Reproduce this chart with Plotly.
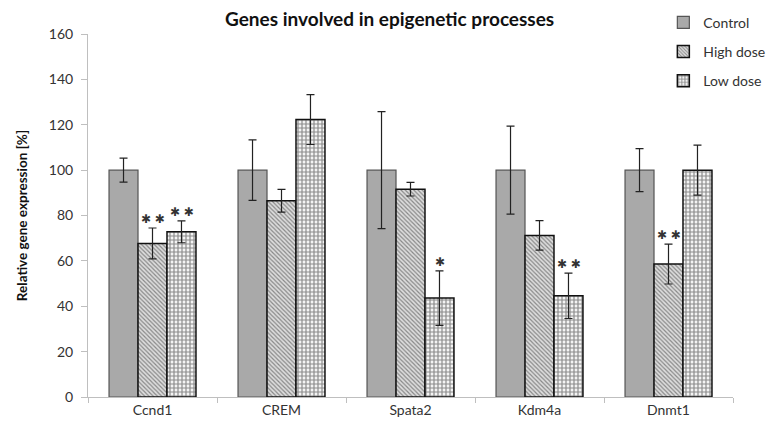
import plotly.graph_objects as go

categories = ["Ccnd1", "CREM", "Spata2", "Kdm4a", "Dnmt1"]
control = [100, 100, 100, 100, 100]
control_err = [5.3, 13.3, 25.8, 19.4, 9.5]
high_dose = [67.7, 86.5, 91.6, 71.2, 58.6]
high_err = [6.8, 5.0, 3.0, 6.5, 8.8]
low_dose = [72.8, 122.3, 43.6, 44.6, 100]
low_err = [4.8, 11.0, 12.0, 10.0, 11.0]
high_sig = ["**", "", "", "", "**"]
low_sig = ["**", "", "*", "**", ""]

FONT = "Lato, 'Open Sans', sans-serif"
fig = go.Figure()

err_style = dict(type="data", visible=True, color="#222222", thickness=1.2, width=4)

fig.add_trace(go.Bar(
    x=categories, y=control, name="Control", legendgroup="c",
    error_y=dict(array=control_err, **err_style),
    marker=dict(color="#a9a9a9", line=dict(color="#555555", width=1.2)),
))
fig.add_trace(go.Bar(
    x=categories, y=high_dose, name="High dose", legendgroup="h",
    error_y=dict(array=high_err, **err_style),
    marker=dict(color="#ffffff", line=dict(color="#111111", width=1.5),
                pattern=dict(shape="\\", fgcolor="#333333", bgcolor="#dddddd",
                             size=3, solidity=0.4)),
))
fig.add_trace(go.Bar(
    x=categories, y=low_dose, name="Low dose", legendgroup="l",
    error_y=dict(array=low_err, **err_style),
    marker=dict(color="#ffffff", line=dict(color="#111111", width=1.5),
                pattern=dict(shape="+", fgcolor="#222222", bgcolor="#f4f4f4",
                             size=4, solidity=0.5)),
))

def stars(s):
    return " ".join("\u2731" for _ in s)

# significance asterisks (High dose = centre bar, Low dose = right bar)
for i, cat in enumerate(categories):
    if high_sig[i]:
        fig.add_annotation(x=cat, y=high_dose[i] + high_err[i],
                           text=stars(high_sig[i]),
                           xshift=0, yshift=9, showarrow=False,
                           font=dict(size=12, color="#333333", family="DejaVu Sans"))
    if low_sig[i]:
        fig.add_annotation(x=cat, y=low_dose[i] + low_err[i],
                           text=stars(low_sig[i]),
                           xshift=29, yshift=9, showarrow=False,
                           font=dict(size=12, color="#333333", family="DejaVu Sans"))

# page body has an 8px margin; figure sized/offset so the plot area lands at x 88-733, y 34-397
fig.update_layout(
    width=771, height=421,
    margin=dict(l=80, r=46, t=26, b=32, autoexpand=False),
    paper_bgcolor="white", plot_bgcolor="white",
    barmode="group", bargap=0.326, bargroupgap=0,
    title=dict(text="<b>Genes involved in epigenetic processes</b>",
               x=0.495, xanchor="center", y=0.972, yanchor="middle",
               font=dict(size=19, color="#111111", family=FONT)),
    font=dict(family=FONT, size=14, color="#444444"),
    legend=dict(x=0.892, xanchor="left", y=1.075, yanchor="top",
                bgcolor="rgba(0,0,0,0)", font=dict(size=14, color="#333333"),
                traceorder="grouped", tracegroupgap=8, itemwidth=30),
    showlegend=True,
    xaxis=dict(showline=True, linecolor="#bfbfbf", linewidth=1,
               ticks="outside", tickson="boundaries", ticklen=5, tickcolor="#bfbfbf",
               tickfont=dict(size=14, color="#333333"), showgrid=False),
    yaxis=dict(range=[0, 160], dtick=20, showline=True, linecolor="#bfbfbf", linewidth=1,
               ticks="outside", ticklen=6, tickcolor="#bfbfbf", showgrid=False,
               zeroline=False, tickfont=dict(size=14, color="#333333"),
               ticklabelstandoff=5,
               title=dict(text="<b>Relative gene expression [%]</b>",
                          font=dict(size=13.5, color="#111111"), standoff=18)),
)

fig.write_html("out.html")
